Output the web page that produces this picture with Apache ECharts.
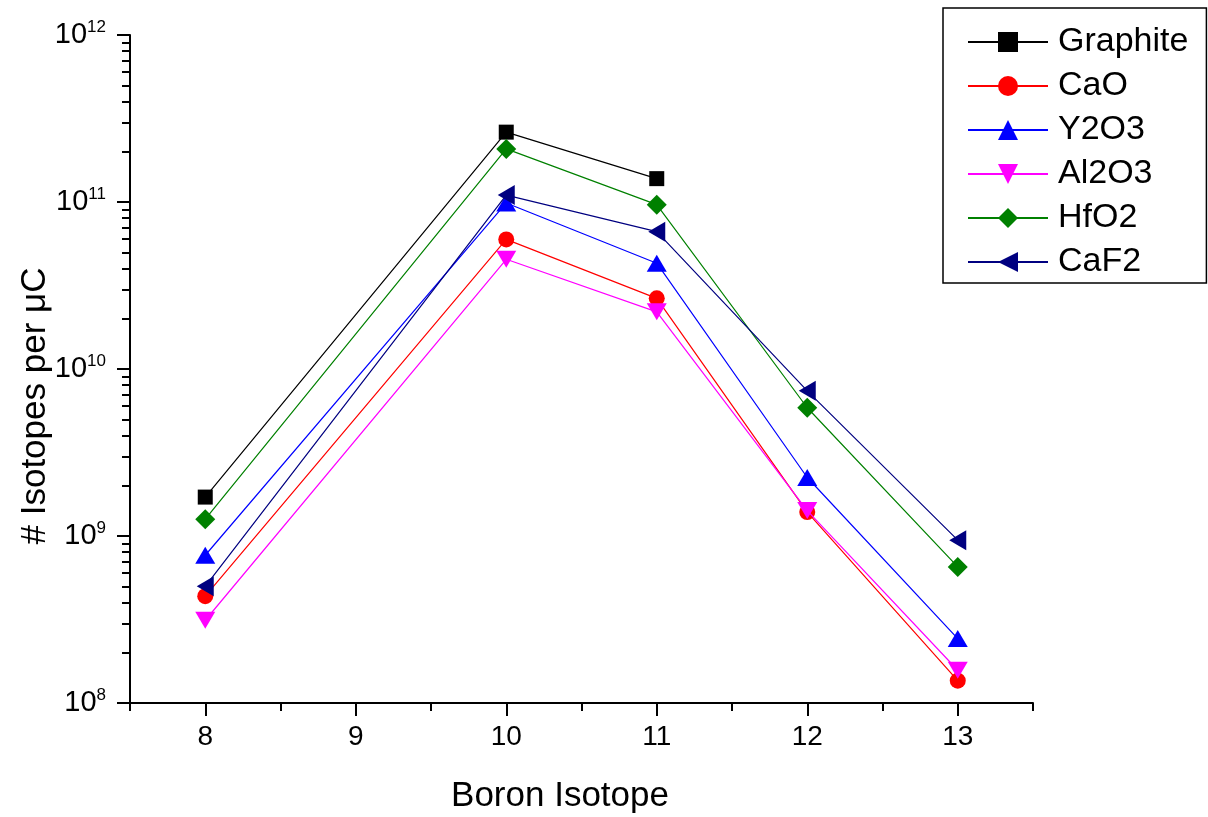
<!DOCTYPE html>
<html>
<head>
<meta charset="utf-8">
<script src="https://cdn.jsdelivr.net/npm/echarts@6/dist/echarts.min.js"></script>
<style>
html,body{margin:0;padding:0;background:#fff;}
#chart{width:1208px;height:817px;}
</style>
</head>
<body>
<div id="chart"></div>
<script>
// Boron isotope mass numbers (x positions)
const isotopes = [8, 10, 11, 12, 13];
const seriesNames = ['Graphite', 'CaO', 'Y2O3', 'Al2O3', 'HfO2', 'CaF2'];
// # isotopes per µC
const graphite = [1.71e9, 2.62e11, 1.38e11, null, null];
const cao      = [4.36e8, 5.97e10, 2.65e10, 1.39e9, 1.36e8];
const y2o3     = [7.67e8, 9.87e10, 4.30e10, 2.24e9, 2.43e8];
const al2o3    = [3.13e8, 4.54e10, 2.20e10, 1.42e9, 1.57e8];
const hfo2     = [1.26e9, 2.08e11, 9.64e10, 5.86e9, 6.53e8];
const caf2     = [5.00e8, 1.10e11, 6.64e10, 7.40e9, 9.44e8];
const xMajorTicks = [8, 9, 10, 11, 12, 13];
const xMinorTicks = [7.5, 8.5, 9.5, 10.5, 11.5, 12.5, 13.5];

const FONT = 'Arial, "Liberation Sans", sans-serif';
const styles = [
  {color: '#000000', symbol: 'rect', size: 15, rot: 0},
  {color: '#ff0000', symbol: 'circle', size: 16, rot: 0},
  {color: '#0000ff', symbol: 'triangle', size: [20, 17], rot: 0},
  {color: '#ff00ff', symbol: 'triangle', size: [20, 17], rot: 180},
  {color: '#008000', symbol: 'diamond', size: [20, 20], rot: 0},
  {color: '#000080', symbol: 'triangle', size: [20, 17], rot: 90}
];
const allValues = [graphite, cao, y2o3, al2o3, hfo2, caf2];

// minor tick positions (log10 of k*10^n) for the decoration axis
const yMinor = [];
for (let d = 8; d < 12; d++) {
  for (let k = 2; k <= 9; k++) yMinor.push(d + Math.log10(k));
}

const series = seriesNames.map((name, i) => ({
  name: name,
  type: 'line',
  xAxisIndex: 0,
  yAxisIndex: 0,
  data: isotopes.map((x, j) => allValues[i][j] == null ? null : [x, allValues[i][j]]).filter(p => p),
  symbol: styles[i].symbol,
  symbolSize: styles[i].size,
  symbolRotate: styles[i].rot,
  itemStyle: {color: styles[i].color},
  lineStyle: {color: styles[i].color, width: 1.2},
  showAllSymbol: true,
  z: 2 + i
}));

const chart = echarts.init(document.getElementById('chart'), null, {renderer: 'canvas'});
chart.setOption({
  animation: false,
  backgroundColor: '#ffffff',
  grid: {left: 130, right: 175, top: 35, bottom: 114, containLabel: false, outerBoundsMode: 'none'},
  legend: {
    orient: 'vertical',
    left: 943, top: 8,
    data: seriesNames,
    borderColor: '#000', borderWidth: 1.5,
    padding: [17, 18, 4, 24],
    itemWidth: 80, itemHeight: 25, itemGap: 10,
    textStyle: {fontFamily: FONT, fontSize: 34, lineHeight: 32, color: '#000', padding: [0, 0, 0, 5]}
  },
  xAxis: [{
    type: 'value', min: 7.5, max: 13.5, position: 'bottom',
    axisLine: {show: true, lineStyle: {color: '#000', width: 2}},
    axisTick: {show: true, inside: false, length: 13, lineStyle: {color: '#000', width: 2}, customValues: xMajorTicks},
    axisLabel: {show: true, customValues: xMajorTicks, fontFamily: FONT, fontSize: 28, color: '#000', margin: 20},
    splitLine: {show: false}
  }, {
    type: 'value', min: 7.5, max: 13.5, position: 'bottom',
    axisLine: {show: false},
    axisTick: {show: true, inside: false, length: 8, lineStyle: {color: '#000', width: 2}, customValues: xMinorTicks},
    axisLabel: {show: false},
    splitLine: {show: false}
  }],
  yAxis: [{
    type: 'log', logBase: 10, min: 1e8, max: 1e12, position: 'left',
    axisLine: {show: true, lineStyle: {color: '#000', width: 2}},
    axisTick: {show: true, inside: false, length: 13, lineStyle: {color: '#000', width: 2}},
    axisLabel: {
      show: true, margin: 24, color: '#000',
      formatter: v => '{b|10}{s|' + Math.round(Math.log10(v)) + '}',
      rich: {
        b: {fontFamily: FONT, fontSize: 29, color: '#000'},
        s: {fontFamily: FONT, fontSize: 17, color: '#000', padding: [0, 0, 16, 0]}
      }
    },
    splitLine: {show: false}
  }, {
    type: 'value', min: 8, max: 12, position: 'left',
    axisLine: {show: false},
    axisTick: {show: true, inside: false, length: 8, lineStyle: {color: '#000', width: 2}, customValues: yMinor},
    axisLabel: {show: false},
    splitLine: {show: false}
  }],
  graphic: [{
    type: 'text', x: 560, y: 796,
    style: {text: 'Boron Isotope', fontFamily: FONT, fontSize: 35, fill: '#000', align: 'center', verticalAlign: 'middle'}
  }, {
    type: 'text', x: 35, y: 406, rotation: Math.PI / 2,
    style: {text: '# Isotopes per \u03bcC', fontFamily: FONT, fontSize: 35, fill: '#000', align: 'center', verticalAlign: 'middle'}
  }],
  series: series
});
</script>
</body>
</html>
